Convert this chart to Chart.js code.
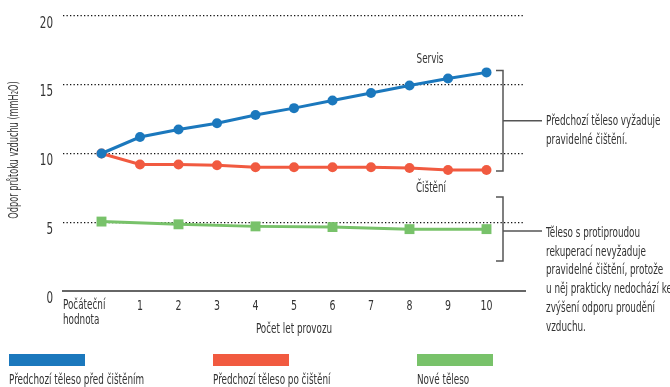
<!DOCTYPE html>
<html>
<head>
<meta charset="utf-8">
<script src="https://cdn.jsdelivr.net/npm/chart.js@4.4.0/dist/chart.umd.min.js"></script>
<style>
  html, body { margin: 0; padding: 0; background: #fff; }
</style>
</head>
<body>
<canvas id="graf" width="670" height="387"></canvas>
<script>
// ---- data ----
const kategorie = [['Počáteční', 'hodnota'], '1', '2', '3', '4', '5', '6', '7', '8', '9', '10'];
const roky = [0, 1, 2, 3, 4, 5, 6, 7, 8, 9, 10];
const predCistenim = [10.0, 11.2, 11.75, 12.2, 12.8, 13.3, 13.85, 14.4, 14.95, 15.45, 15.9];
const poCisteni    = [10.0, 9.2, 9.2, 9.15, 9.0, 9.0, 9.0, 9.0, 8.95, 8.8, 8.8];
const noveTeleso   = [5.05, null, 4.85, null, 4.7, null, 4.65, null, 4.5, null, 4.5];
const yTicks = [0, 5, 10, 15, 20];

const nazvySerii = ['Předchozí těleso před čištěním', 'Předchozí těleso po čištění', 'Nové těleso'];
const titulY = 'Odpor průtoku vzduchu (mmH₂O)';
const titulX = 'Počet let provozu';
const popisServis = 'Servis';
const popisCisteni = 'Čištění';
const poznamka1 = ['Předchozí těleso vyžaduje', 'pravidelné čištění.'];
const poznamka2 = ['Těleso s protiproudou', 'rekuperací nevyžaduje', 'pravidelné čištění, protože',
                   'u něj prakticky nedochází ke', 'zvýšení odporu proudění', 'vzduchu.'];

const BARVY = { modra: '#1b78bd', cervena: '#f15a40', zelena: '#78c26a', text: '#333333' };
const FONT = "'DejaVu Sans Condensed', 'Liberation Sans', sans-serif";
const STLACENI = 0.7; // písmo v originále je úzké (condensed)

// páry x/y pro lineární osu
const body = (arr) => roky.map((r, i) => ({ x: r, y: arr[i] })).filter(p => p.y !== null);

// text stlačený do šířky
function uzkyText(ctx, t, x, y, k = STLACENI) {
  ctx.save();
  ctx.translate(x, y);
  ctx.scale(k, 1);
  ctx.fillText(t, 0, 0);
  ctx.restore();
}

// vlastní kreslení: popisky os, závorky, legenda
const popiskyPlugin = {
  id: 'popisky',
  afterDraw(chart) {
    const { ctx, chartArea: a, scales: { x, y } } = chart;
    ctx.save();
    ctx.fillStyle = BARVY.text;
    ctx.textBaseline = 'middle';

    // popisky osy Y
    ctx.font = `16px ${FONT}`;
    ctx.textAlign = 'right';
    yTicks.forEach(v => uzkyText(ctx, String(v), 53, y.getPixelForValue(v) + 7.5, 0.72));

    // popisky osy X (první kategorie zarovnaná vlevo)
    ctx.font = `14px ${FONT}`;
    ctx.textAlign = 'left';
    kategorie[0].forEach((t, i) => uzkyText(ctx, t, a.left, 305 + i * 15));
    ctx.textAlign = 'center';
    roky.slice(1).forEach(r => uzkyText(ctx, kategorie[r], x.getPixelForValue(r), 306, 0.75));

    // titulek osy X
    uzkyText(ctx, titulX, (a.left + a.right) / 2, 329);

    // titulek osy Y
    ctx.save();
    ctx.translate(14, 150);
    ctx.rotate(-Math.PI / 2);
    uzkyText(ctx, titulY, 0, 0, 0.65);
    ctx.restore();

    // Servis / Čištění
    uzkyText(ctx, popisServis, 430, 59);
    uzkyText(ctx, popisCisteni, 431, 188);

    // závorky
    ctx.strokeStyle = '#555';
    ctx.lineWidth = 1.5;
    const bx = 503;
    const zavorka = (top, bottom, mid) => {
      ctx.beginPath();
      ctx.moveTo(bx - 7, top); ctx.lineTo(bx, top); ctx.lineTo(bx, bottom); ctx.lineTo(bx - 7, bottom);
      ctx.moveTo(bx, mid); ctx.lineTo(542, mid);
      ctx.stroke();
    };
    const t1 = y.getPixelForValue(predCistenim[10]) - 2;
    const b1 = y.getPixelForValue(poCisteni[10]) + 1;
    zavorka(t1, b1, (t1 + b1) / 2);
    zavorka(197, 261, 231);

    ctx.textAlign = 'left';
    poznamka1.forEach((t, i) => uzkyText(ctx, t, 546, 121 + i * 19));
    poznamka2.forEach((t, i) => uzkyText(ctx, t, 546, 233 + i * 18.9));

    // legenda
    const lx = [9, 213, 417];
    chart.data.datasets.forEach((ds, i) => {
      ctx.fillStyle = ds.borderColor;
      ctx.fillRect(lx[i], 354, 76, 12);
      ctx.fillStyle = BARVY.text;
      uzkyText(ctx, ds.label, lx[i], 380);
    });
    ctx.restore();
  }
};

new Chart(document.getElementById('graf'), {
  type: 'line',
  data: {
    datasets: [
      { label: nazvySerii[0], data: body(predCistenim), borderColor: BARVY.modra, backgroundColor: BARVY.modra,
        borderWidth: 3, pointRadius: 5, pointBorderWidth: 0, pointStyle: 'circle' },
      { label: nazvySerii[1], data: body(poCisteni), borderColor: BARVY.cervena, backgroundColor: BARVY.cervena,
        borderWidth: 3, pointRadius: 5, pointBorderWidth: 0, pointStyle: 'circle' },
      { label: nazvySerii[2], data: body(noveTeleso), borderColor: BARVY.zelena, backgroundColor: BARVY.zelena,
        borderWidth: 3, pointRadius: 7, pointBorderWidth: 0, pointStyle: 'rect' }
    ]
  },
  options: {
    responsive: false,
    animation: false,
    events: [],
    layout: { padding: { top: 16, right: 145, left: 0, bottom: 0 } },
    plugins: { legend: { display: false }, tooltip: { enabled: false } },
    scales: {
      x: {
        type: 'linear',
        min: -1,
        max: 11,
        afterFit: (s) => { s.height = 96; },
        grid: { display: false },
        border: { display: true, color: '#666', width: 2 },
        ticks: { display: false, stepSize: 1 }
      },
      y: {
        min: 0,
        max: 20,
        afterFit: (s) => { s.width = 63; },
        afterBuildTicks: (s) => { s.ticks = yTicks.map(v => ({ value: v })); },
        border: { display: false, dash: [1.3, 2.2] },
        grid: {
          drawTicks: false,
          lineWidth: 1.3,
          color: (c) => c.tick && c.tick.value === 0 ? 'rgba(0,0,0,0)' : '#111'
        },
        ticks: { display: false }
      }
    }
  },
  plugins: [popiskyPlugin]
});
</script>
</body>
</html>
